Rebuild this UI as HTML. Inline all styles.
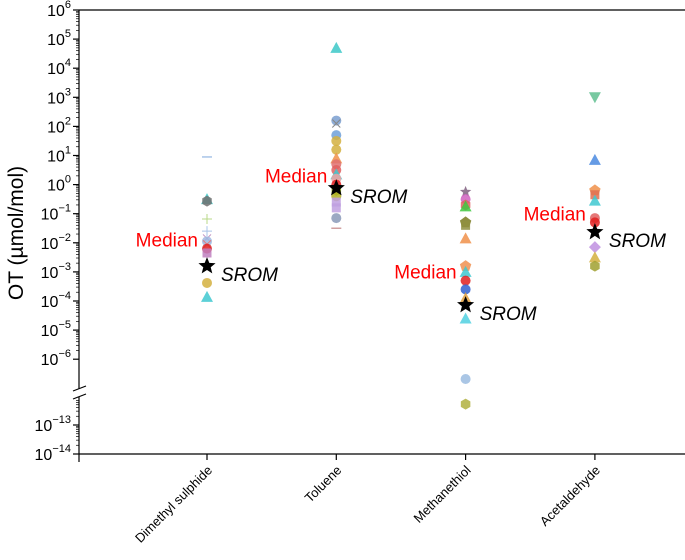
<!DOCTYPE html>
<html><head><meta charset="utf-8"><style>
body{margin:0;background:#fff}
svg{display:block;font-family:"Liberation Sans",Arial,sans-serif}
</style></head><body>
<svg id="chart" width="685" height="560" viewBox="0 0 685 560" xmlns="http://www.w3.org/2000/svg">
<g id="axes"></g>
<g id="marks"></g>
<g id="labels"></g>
</svg>
<script>
const categories=["Dimethyl sulphide","Toluene","Methanethiol","Acetaldehyde"];
const yTickExps=[6,5,4,3,2,1,0,-1,-2,-3,-4,-5,-6,-13,-14];
// per category: log10 values, shapes, colors
const dmsLog=[0.95,-0.5,-0.57,-1.18,-1.6,-1.85,-1.95,-2.05,-2.2,-2.35,-3.38,-3.86];
const dmsShape=["dash","tri","hex","plus","plus","x","circ","x","circ","sq","circ","tri"];
const dmsColor=["#a9c4e8","#3cc8c8","#707070","#b8d88a","#a9c4e8","#c090c0","#9db8e0","#e08080","#e02020","#c080c0","#d4b040","#40c8d0"];
const tolLog=[4.7,2.2,2.1,1.7,1.5,1.2,0.9,0.7,0.5,0.35,0.2,0,-0.2,-0.4,-0.6,-0.8,-1.15,-1.5];
const tolShape=["tri","circ","x","circ","circ","circ","tri","circ","circ","tri","circ","circ","hex","circ","sq","sq","circ","dash"];
const tolColor=["#3cc8c8","#7a9fd0","#888888","#6fa0d8","#d4b040","#d4b040","#f0904a","#e07070","#e06060","#40c8d0","#f0a0a0","#e02020","#90a820","#b0b020","#c0a0e0","#c0a0e0","#8a9ab8","#d0a0a0"];
const metLog=[-0.25,-0.5,-0.7,-0.75,-1.3,-1.4,-1.85,-2.8,-3.0,-3.3,-3.6,-3.9,-4.6,-6.68,-12.28];
const metShape=["star","circ","hex","tri","pent","sq","tri","pent","tri","circ","circ","tri","tri","circ","hex"];
const metColor=["#806080","#d060c0","#e06060","#40c840","#7a7a20","#909040","#f0904a","#f09050","#40c8d0","#e02020","#3060d0","#e0a040","#50d0e0","#9bbce0","#b0b040"];
const aceLog=[3.0,0.85,-0.2,-0.35,-0.55,-1.15,-1.3,-2.15,-2.5,-2.8];
const aceShape=["itri","tri","pent","sq","tri","circ","circ","dia","tri","hex"];
const aceColor=["#60c090","#4a8ae0","#f0904a","#e07050","#40c8d0","#e06060","#e02020","#c090e0","#d4b040","#a0a030"];
const sromLog=[-2.8,-0.12,-4.14,-1.63];
const medianLog=[-2.2,0,-3.3,-1.3];

const NS="http://www.w3.org/2000/svg";
const X0=79,X1=685,TOP=10,BOT=454;
function xPos(i){return 207+i*129.3;}
function yPos(l){ if(l<-8) return 425-(l+13)*29; return 184.6-l*29.1;}
function el(t,a,p){const e=document.createElementNS(NS,t);for(const k in a)e.setAttribute(k,a[k]);p.appendChild(e);return e;}
const axes=document.getElementById('axes'),marks=document.getElementById('marks'),labels=document.getElementById('labels');

let l=el('line',{x1:X0,y1:TOP,x2:X0,y2:389,stroke:'#000','stroke-width':1.2},axes);

l=el('line',{x1:X0,y1:397,x2:X0,y2:BOT+8,stroke:'#000','stroke-width':1.2},axes);

l=el('line',{x1:X0,y1:TOP,x2:X1,y2:TOP,stroke:'#000','stroke-width':1.2},axes);

l=el('line',{x1:X0,y1:BOT,x2:X1,y2:BOT,stroke:'#000','stroke-width':1.2},axes);

l=el('line',{x1:73,y1:391,x2:86,y2:386,stroke:'#000','stroke-width':1.2},axes);

l=el('line',{x1:73,y1:399,x2:86,y2:394,stroke:'#000','stroke-width':1.2},axes);

yTickExps.forEach(e=>{
  const y=yPos(e);
  const t=el('line',{x1:X0-6,y1:y,x2:X0,y2:y,stroke:'#000','stroke-width':1.2},axes);
  
  const tx=el('text',{x:X0-8,y:y+6,'text-anchor':'end','font-size':16,fill:'#000'},axes);
  
  tx.textContent='10';
  const s=el('tspan',{dy:-8,'font-size':11},tx);s.textContent=(e<0?'\u2212'+(-e):String(e));
  const step=(e<-8)?29:29.1;
  if(e!==6){
    for(let k=2;k<10;k++){const yy=y-Math.log10(k)*step;if(yy>387&&yy<399)continue;
      el('line',{x1:X0-3,y1:yy,x2:X0,y2:yy,stroke:'#000','stroke-width':0.7},axes);}
  }
});
const yt=el('text',{x:0,y:0,transform:'translate(23,233) rotate(-90)','text-anchor':'middle','font-size':21,fill:'#000'},axes);

yt.textContent='OT (\u00b5mol/mol)';
categories.forEach((c,i)=>{
  const x=xPos(i);
  const t=el('line',{x1:x,y1:BOT,x2:x,y2:BOT+6,stroke:'#000','stroke-width':1.2},axes);
  
  const tx=el('text',{x:0,y:0,transform:`translate(${x+6},${BOT+17}) rotate(-45)`,'text-anchor':'end','font-size':13,fill:'#000'},axes);
  
  tx.textContent=c;
});
function shape(s,x,y,c){
  const r=5;let e;
  if(s==='circ')e=el('circle',{cx:x,cy:y,r:r},marks);
  else if(s==='sq')e=el('rect',{x:x-4.5,y:y-4.5,width:9,height:9},marks);
  else if(s==='tri')e=el('polygon',{points:`${x},${y-6} ${x+6},${y+5} ${x-6},${y+5}`},marks);
  else if(s==='itri')e=el('polygon',{points:`${x-6},${y-5} ${x+6},${y-5} ${x},${y+6}`},marks);
  else if(s==='dia')e=el('polygon',{points:`${x},${y-6} ${x+6},${y} ${x},${y+6} ${x-6},${y}`},marks);
  else if(s==='hex'){let p=[];for(let k=0;k<6;k++){const a=Math.PI/6+k*Math.PI/3;p.push((x+5.5*Math.cos(a))+','+(y+5.5*Math.sin(a)));}e=el('polygon',{points:p.join(' ')},marks);}
  else if(s==='pent'){let p=[];for(let k=0;k<5;k++){const a=-Math.PI/2+k*2*Math.PI/5;p.push((x+6*Math.cos(a))+','+(y+6*Math.sin(a)));}e=el('polygon',{points:p.join(' ')},marks);}
  else if(s==='star'){let p=[];for(let k=0;k<10;k++){const a=-Math.PI/2+k*Math.PI/5,rr=k%2?2.6:6;p.push((x+rr*Math.cos(a))+','+(y+rr*Math.sin(a)));}e=el('polygon',{points:p.join(' ')},marks);}
  else if(s==='plus'){e=el('path',{d:`M${x-5},${y}H${x+5}M${x},${y-5}V${y+5}`,stroke:c,'stroke-width':1,fill:'none'},marks);}
  else if(s==='x'){e=el('path',{d:`M${x-4},${y-4}L${x+4},${y+4}M${x+4},${y-4}L${x-4},${y+4}`,stroke:c,'stroke-width':1,fill:'none'},marks);}
  else if(s==='dash'){e=el('path',{d:`M${x-5},${y}H${x+5}`,stroke:c,'stroke-width':1.5,fill:'none'},marks);}
  if(!['plus','x','dash'].includes(s)){e.setAttribute('fill',c);e.setAttribute('fill-opacity',0.85);}
  return e;
}
const sets=[[dmsLog,dmsShape,dmsColor],[tolLog,tolShape,tolColor],[metLog,metShape,metColor],[aceLog,aceShape,aceColor]];
sets.forEach((s,i)=>{
  s[0].forEach((v,j)=>{
    const e=shape(s[1][j],xPos(i),yPos(v),s[2][j]);
    
    
  });
  const st=shape('star',xPos(i),yPos(sromLog[i]),'#000');
  st.setAttribute('transform',`translate(${xPos(i)},${yPos(sromLog[i])}) scale(1.5) translate(${-xPos(i)},${-yPos(sromLog[i])})`);
  st.setAttribute('fill-opacity',1);
  
  
  const m=el('text',{x:xPos(i)-9,y:yPos(medianLog[i])-2,'text-anchor':'end','font-size':19,fill:'#ff0000'},labels);
  
  
  m.textContent='Median';
  const sr=el('text',{x:xPos(i)+14,y:yPos(sromLog[i])+15,'font-size':19,'font-style':'italic',fill:'#000'},labels);
  
  
  sr.textContent='SROM';
});
</script>
</body></html>
